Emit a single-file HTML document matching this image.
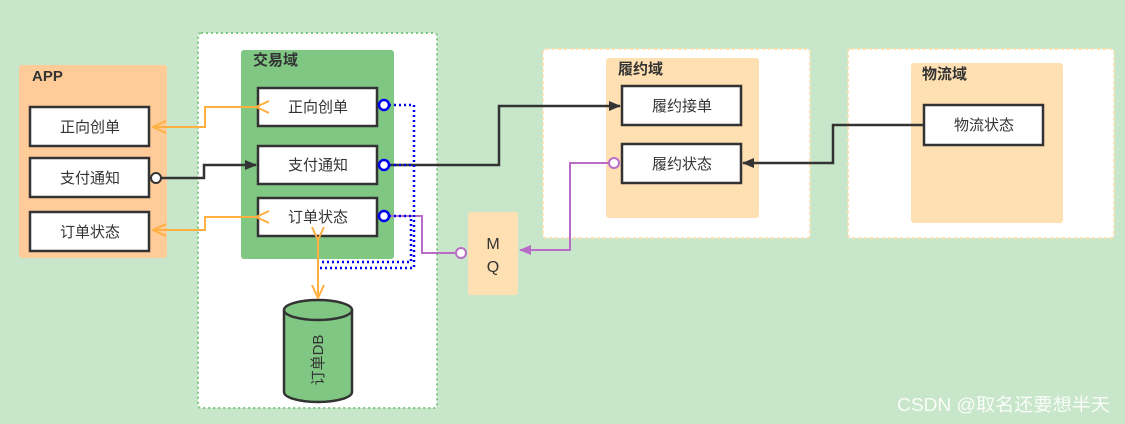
<!DOCTYPE html>
<html><head><meta charset="utf-8"><style>
body{margin:0;width:1125px;height:424px;background:#c8e6c9;overflow:hidden;font-family:"Liberation Sans","Noto Sans CJK SC",sans-serif}
</style></head><body>
<svg width="1125" height="424" xmlns="http://www.w3.org/2000/svg" style="position:absolute;left:0;top:0" font-family="Liberation Sans, Noto Sans CJK SC, sans-serif">
<defs>
<marker id="ab" markerWidth="12" markerHeight="10" refX="11" refY="5" orient="auto" markerUnits="userSpaceOnUse"><path d="M0,0 L12,5 L0,10 z" fill="#333"/></marker>
<marker id="ap" markerWidth="12" markerHeight="10" refX="11" refY="5" orient="auto" markerUnits="userSpaceOnUse"><path d="M0,0 L12,5 L0,10 z" fill="#b86cc8"/></marker>
<marker id="ao" markerWidth="14" markerHeight="14" refX="13" refY="7" orient="auto" markerUnits="userSpaceOnUse"><path d="M0,1 L13,7 L0,13" fill="none" stroke="#ffb040" stroke-width="2"/></marker>
</defs>
<rect x="19" y="65" width="148" height="193" rx="3" fill="#ffcc99"/>
<text x="32" y="81" font-size="15" font-weight="bold" fill="#333">APP</text>
<g fill="#fff" stroke="#333" stroke-width="2.5">
<rect x="30" y="107" width="119" height="39"/><rect x="30" y="158" width="119" height="39"/><rect x="30" y="212" width="119" height="39"/>
</g>
<g font-size="15" fill="#333" text-anchor="middle">
<text x="90" y="132">正向创单</text><text x="90" y="183">支付通知</text><text x="90" y="237">订单状态</text>
</g>
<rect x="198" y="33" width="239" height="375" rx="3" fill="#fff" stroke="#81c784" stroke-width="2" stroke-dasharray="2,3"/>
<rect x="241" y="50" width="153" height="209" rx="3" fill="#81c784"/>
<text x="253" y="65" font-size="15" font-weight="bold" fill="#333">交易域</text>
<g fill="#fff" stroke="#333" stroke-width="2.5">
<rect x="258" y="88" width="119" height="38"/><rect x="258" y="146" width="119" height="38"/><rect x="258" y="198" width="119" height="38"/>
</g>
<g font-size="15" fill="#333" text-anchor="middle">
<text x="318" y="112">正向创单</text><text x="318" y="170">支付通知</text><text x="318" y="222">订单状态</text>
</g>
<path d="M284,310 L284,392 A34,10 0 0 0 352,392 L352,310" fill="#81c784" stroke="#333" stroke-width="2.5"/>
<ellipse cx="318" cy="310" rx="34" ry="10" fill="#81c784" stroke="#333" stroke-width="2.5"/>
<text transform="translate(323,360) rotate(-90)" font-size="15" fill="#333" text-anchor="middle">订单DB</text>
<rect x="543" y="49" width="267" height="189" rx="3" fill="#fff" stroke="#ffe0b2" stroke-width="2" stroke-dasharray="3,3"/>
<rect x="606" y="58" width="153" height="160" rx="3" fill="#ffe0b2"/>
<text x="618" y="74" font-size="15" font-weight="bold" fill="#333">履约域</text>
<g fill="#fff" stroke="#333" stroke-width="2.5">
<rect x="622" y="86" width="119" height="39"/><rect x="622" y="144" width="119" height="39"/>
</g>
<g font-size="15" fill="#333" text-anchor="middle"><text x="682" y="111">履约接单</text><text x="682" y="169">履约状态</text></g>
<rect x="848" y="49" width="266" height="189" rx="3" fill="#fff" stroke="#ffe0b2" stroke-width="2" stroke-dasharray="3,3"/>
<rect x="911" y="63" width="152" height="160" rx="3" fill="#ffe0b2"/>
<text x="922" y="79" font-size="15" font-weight="bold" fill="#333">物流域</text>
<rect x="924" y="105" width="119" height="40" fill="#fff" stroke="#333" stroke-width="2.5"/>
<text x="984" y="130" font-size="15" fill="#333" text-anchor="middle">物流状态</text>
<rect x="468" y="212" width="50" height="83" rx="3" fill="#ffe0b2"/>
<text x="493" y="249" font-size="16" fill="#333" text-anchor="middle">M</text>
<text x="493" y="272" font-size="16" fill="#333" text-anchor="middle">Q</text>
<g fill="none" stroke-width="2">
<path d="M256,107 L205,107 L205,127 L153,127" stroke="#ffb040" marker-end="url(#ao)" marker-start="url(#ao)"/>
<path d="M256,217 L205,217 L205,230 L153,230" stroke="#ffb040" marker-end="url(#ao)" marker-start="url(#ao)"/>
<path d="M318,240 L318,298" stroke="#ffb040" marker-end="url(#ao)" marker-start="url(#ao)"/>
<path d="M161,178 L204,178 L204,165 L256,165" stroke="#333" stroke-width="2.5" marker-end="url(#ab)"/>
<path d="M390,165 L499,165 L499,106 L620,106" stroke="#333" stroke-width="2.5" marker-end="url(#ab)"/>
<path d="M924,125 L833,125 L833,163 L743,163" stroke="#333" stroke-width="2.5" marker-end="url(#ab)"/>
<path d="M609,163 L570,163 L570,250 L520,250" stroke="#b86cc8" marker-end="url(#ap)"/>
<path d="M390,216 L422,216 L422,253 L456,253" stroke="#b86cc8"/>
<path d="M389,105 L414,105 L414,268 L320,268 M389,165 L411,165 M389,216 L411,216 L411,262 L320,262" stroke="#0000ee" stroke-width="2.5" stroke-dasharray="2,3"/>
</g>
<g fill="#fff" stroke="#0000ee" stroke-width="2.5">
<circle cx="384" cy="105" r="5"/><circle cx="384" cy="165" r="5"/><circle cx="384" cy="216" r="5"/>
</g>
<circle cx="156" cy="178" r="5" fill="#fff" stroke="#333" stroke-width="2"/>
<circle cx="614" cy="163" r="5" fill="#fff" stroke="#b86cc8" stroke-width="2"/>
<circle cx="461" cy="253" r="5" fill="#fff" stroke="#b86cc8" stroke-width="2"/>
<text x="897" y="411" font-size="18" fill="#fff" opacity="0.9" textLength="213" lengthAdjust="spacingAndGlyphs">CSDN @取名还要想半天</text>
</svg>
</body></html>
